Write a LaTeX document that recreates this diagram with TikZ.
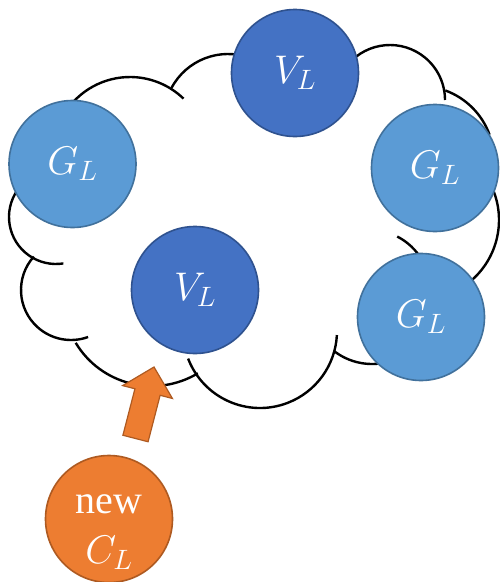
\RequirePackage{fix-cm}
\documentclass[tikz,border=0pt]{standalone}
\usepackage{fontspec}
\setmainfont{Liberation Serif}
\usepackage{tikz}
\usetikzlibrary{calc}
\definecolor{vdark}   {RGB}{ 68, 114, 196}
\definecolor{vdarkln} {RGB}{ 47,  82, 143}
\definecolor{glight}  {RGB}{ 91, 155, 213}
\definecolor{glightln}{RGB}{ 65, 113, 156}
\definecolor{neworange}  {RGB}{237, 125,  49}
\definecolor{neworangeln}{RGB}{174,  90,  33}
\tikzset{
	cloudline/.style={line width=2.4pt, black},
	balltext/.style={text=white, font=\fontsize{40}{50}\selectfont},
	ball/.style={circle, minimum size=127pt, inner sep=0pt, line width=1.6pt, balltext},
	vball/.style={ball, fill=vdark, draw=vdarkln},
	gball/.style={ball, fill=glight, draw=glightln},
	cball/.style={ball, fill=neworange, draw=neworangeln},
	blockarrow/.style={fill=neworange, draw=neworangeln, line width=1.2pt, line join=miter}
}

\begin{document}
\begin{tikzpicture}[x=1pt, y=-1pt]
	\useasboundingbox (0,0) rectangle (499,582);
	% cloud outline, one arc per bump
	\foreach \cx/\cy/\r/\a/\b in {130/154/77/-145/-46, 228/118/64/-152/-70,
		390/100/55/-140/0, 420/160/74/-70/-20, 419/220/80/-25/50,
		370/290/60/-63/-30, 372/302/62/128/75, 260/331/77/159/3,
		152/297/89/149/59, 71/290/50/222/70, 56/217/47/215/81}
		\draw[cloudline] (\cx,\cy) ++(\a:\r) arc (\a:\b:\r);

	\node[vball] (vtop) at (295,73) {$V_L$};
	\node[gball] (gleft) at (72.5,164) {$G_L$};
	\node[gball] (gright) at (435,168) {$G_L$};
	\node[vball] (vmid) at (195,290) {$V_L$};
	\node[gball] (glow) at (421,317) {$G_L$};
	\node[cball, label={[balltext, align=center, yshift=-13pt]center:{new\\$C_L$}}]
		(cnew) at (109,519) {};

	\coordinate (arrtail) at (135.5,438.5);
	\coordinate (arrtip) at (154,367);
	\coordinate (arrhead) at ($(arrtail)!0.65!(arrtip)$);
	\draw[blockarrow] ($(arrtail)!13pt!90:(arrtip)$) -- ($(arrhead)!13pt!-90:(arrtail)$)
		-- ($(arrhead)!25.7pt!-90:(arrtail)$) -- (arrtip)
		-- ($(arrhead)!25.7pt!90:(arrtail)$) -- ($(arrhead)!13pt!90:(arrtail)$)
		-- ($(arrtail)!13pt!-90:(arrtip)$) -- cycle;
\end{tikzpicture}
\end{document}
